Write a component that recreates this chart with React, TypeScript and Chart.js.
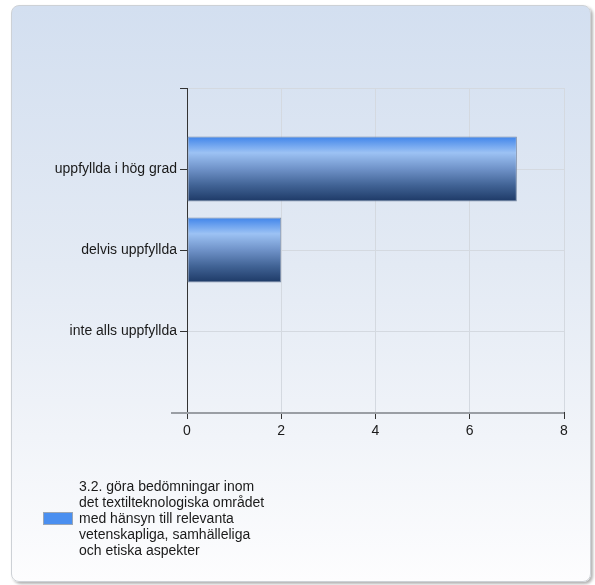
import React, { useEffect, useRef } from 'react';
import { Chart, registerables } from 'chart.js';

Chart.register(...registerables);

const categories = ['uppfyllda i hög grad', 'delvis uppfyllda', 'inte alls uppfyllda'];
const values = [7, 2, 0];
const xTickValues = [0, 2, 4, 6, 8];
const legendLines = [
  '3.2. göra bedömningar inom',
  'det textilteknologiska området',
  'med hänsyn till relevanta',
  'vetenskapliga, samhälleliga',
  'och etiska aspekter',
];

const FONT = 'Arial, "Liberation Sans", sans-serif';

const framePlugin = {
  id: 'frame',
  afterDraw(chart: any) {
    const { ctx, chartArea } = chart;
    ctx.save();
    ctx.strokeStyle = '#9a9ea4';
    ctx.lineWidth = 2;
    ctx.beginPath();
    ctx.moveTo(chartArea.left - 16, chartArea.bottom + 1);
    ctx.lineTo(chartArea.right, chartArea.bottom + 1);
    ctx.stroke();
    ctx.restore();
  },
};

export default function App() {
  const ref = useRef<HTMLCanvasElement>(null);
  useEffect(() => {
    document.body.style.margin = '0';
    const labels = ['', ...categories, ''];
    const data = [null, ...values, null];
    const chart = new Chart(ref.current!, {
      type: 'bar',
      data: {
        labels,
        datasets: [
          {
            label: legendLines.join(' '),
            data,
            backgroundColor: (c: any) => {
              const chart = c.chart;
              const ys = chart.scales && chart.scales.y;
              if (!ys || c.dataIndex === undefined) return '#4a8ae8';
              const center = ys.getPixelForValue(c.dataIndex);
              if (!isFinite(center)) return '#4a8ae8';
              const h = 65;
              const g = chart.ctx.createLinearGradient(0, center - h / 2, 0, center + h / 2);
              g.addColorStop(0, '#3f84ea');
              g.addColorStop(0.25, '#9cc2f4');
              g.addColorStop(0.5, '#6f92c8');
              g.addColorStop(0.75, '#416395');
              g.addColorStop(1, '#1d3966');
              return g;
            },
            borderColor: '#7c8da6',
            borderWidth: (c: any) => (c.raw ? 1 : 0),
            borderSkipped: false,
            barPercentage: 0.8,
            categoryPercentage: 1,
          },
        ],
      },
      options: {
        indexAxis: 'y',
        animation: false,
        responsive: false,
        layout: { padding: { left: 0, top: 88, right: 31, bottom: 143 } },
        plugins: { legend: { display: false }, tooltip: { enabled: false } },
        scales: {
          x: {
            type: 'linear',
            min: 0,
            max: 8,
            afterBuildTicks: (s: any) => {
              s.ticks = xTickValues.map((v) => ({ value: v }));
            },
            afterFit: (s: any) => {
              s.height = 30;
            },
            ticks: { color: '#1a1a1a', font: { family: FONT, size: 14 }, padding: 4 },
            grid: { color: '#d4d9e0', tickColor: '#333', tickLength: 7 },
            border: { display: false },
          },
          y: {
            type: 'category',
            offset: false,
            afterFit: (s: any) => {
              s.width = 187;
            },
            ticks: { color: '#1a1a1a', font: { family: FONT, size: 14 }, padding: 3, autoSkip: false },
            grid: { offset: false, color: '#d4d9e0', tickColor: '#333', tickLength: 7 },
            border: { display: true, color: '#333', width: 1 },
          },
        },
      },
      plugins: [framePlugin],
    });
    chart.update();
    return () => chart.destroy();
  }, []);

  return (
    <div style={{ position: 'fixed', left: 0, top: 0, width: 595, height: 585 }}>
      <div
        style={{
          position: 'absolute',
          left: 11,
          top: 5,
          width: 578,
          height: 575,
          borderRadius: 8,
          border: '1px solid #cdd1d6',
          background: 'linear-gradient(to bottom, #d3dff0 0%, #e3eaf4 45%, #f1f4f9 75%, #fdfdfe 100%)',
          boxShadow: '2px 2px 3px rgba(0,0,0,0.3)',
        }}
      />
      <canvas ref={ref} width={595} height={585} style={{ position: 'absolute', left: 0, top: 0 }} />
      <div
        style={{
          position: 'absolute',
          left: 43,
          top: 512,
          width: 28,
          height: 11,
          background: '#4a8ff0',
          border: '1px solid #9aa6b6',
        }}
      />
      <div
        style={{
          position: 'absolute',
          left: 79,
          top: 478,
          fontFamily: FONT,
          fontSize: 14,
          lineHeight: '16px',
          color: '#1a1a1a',
          whiteSpace: 'nowrap',
        }}
      >
        {legendLines.map((l, i) => (
          <div key={i}>{l}</div>
        ))}
      </div>
    </div>
  );
}
